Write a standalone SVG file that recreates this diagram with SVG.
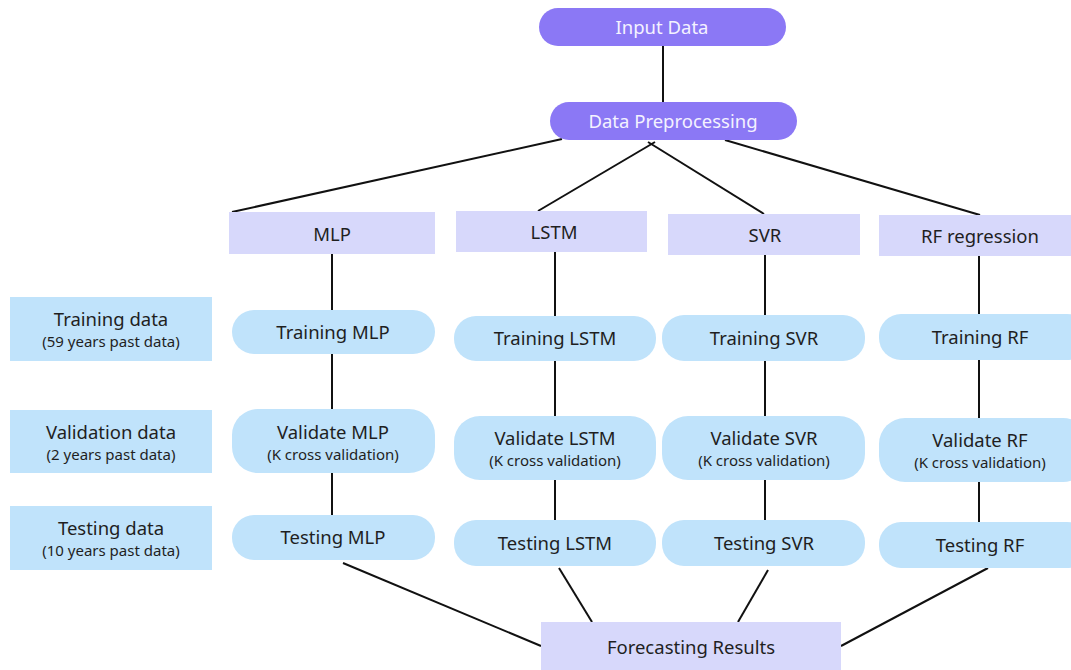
<svg xmlns="http://www.w3.org/2000/svg" width="1071" height="670" viewBox="0 0 1071 670">
<style>
.bg{fill:#ffffff}
.top{fill:#8b78f5}
.model{fill:#d7d8fb}
.pill{fill:#c0e3fb}
.side{fill:#c0e3fb}
.t{font-family:"Noto Sans","Liberation Sans",sans-serif;font-size:18.5px;fill:#1f1f1f;text-anchor:middle;dominant-baseline:central}
.s{font-family:"Noto Sans","Liberation Sans",sans-serif;font-size:15px;fill:#1f1f1f;text-anchor:middle;dominant-baseline:central}
.w{fill:#f4f2ff}
.c{stroke:#111;stroke-width:2;fill:none}
</style>
<rect class="bg" x="0" y="0" width="1071" height="670"/>
<g id="connectors">
<line class="c" x1="663" y1="46" x2="663" y2="102"/>
<line class="c" x1="562" y1="139" x2="232" y2="212"/>
<line class="c" x1="655" y1="142" x2="538" y2="211"/>
<line class="c" x1="648" y1="142" x2="764" y2="214"/>
<line class="c" x1="725" y1="140" x2="980" y2="215"/>
<line class="c" x1="332" y1="254" x2="332" y2="310"/>
<line class="c" x1="332" y1="354" x2="332" y2="409"/>
<line class="c" x1="332" y1="473" x2="332" y2="515"/>
<line class="c" x1="555" y1="252" x2="555" y2="316"/>
<line class="c" x1="555" y1="361" x2="555" y2="416"/>
<line class="c" x1="555" y1="480" x2="555" y2="520"/>
<line class="c" x1="765" y1="255" x2="765" y2="315"/>
<line class="c" x1="765" y1="361" x2="765" y2="416"/>
<line class="c" x1="765" y1="480" x2="765" y2="520"/>
<line class="c" x1="979" y1="256" x2="979" y2="314"/>
<line class="c" x1="979" y1="360" x2="979" y2="418"/>
<line class="c" x1="979" y1="482" x2="979" y2="522"/>
<line class="c" x1="343" y1="563" x2="541" y2="646"/>
<line class="c" x1="559" y1="568" x2="592" y2="622"/>
<line class="c" x1="768" y1="570" x2="738" y2="622"/>
<line class="c" x1="988" y1="568" x2="841" y2="646"/>
</g>
<g id="input-data"><rect class="top" x="539" y="8" width="247" height="38" rx="19"/><text class="t w" x="662" y="26">Input Data</text></g>
<g id="data-preprocessing"><rect class="top" x="550" y="102" width="247" height="38" rx="19"/><text class="t w" x="673" y="120">Data Preprocessing</text></g>
<g id="mlp"><rect class="model" x="229" y="212" width="206" height="42"/><text class="t" x="332" y="233">MLP</text></g>
<g id="lstm"><rect class="model" x="456" y="211" width="191" height="41"/><text class="t" x="554" y="231">LSTM</text></g>
<g id="svr"><rect class="model" x="668" y="214" width="192" height="41"/><text class="t" x="765" y="234">SVR</text></g>
<g id="rf"><rect class="model" x="879" y="215" width="192" height="41"/><text class="t" x="980" y="235">RF regression</text></g>
<g id="training-data"><rect class="side" x="10" y="297" width="202" height="64"/><text class="t" x="111" y="318">Training data</text><text class="s" x="111" y="341">(59 years past data)</text></g>
<g id="validation-data"><rect class="side" x="10" y="410" width="202" height="63"/><text class="t" x="111" y="431">Validation data</text><text class="s" x="111" y="454">(2 years past data)</text></g>
<g id="testing-data"><rect class="side" x="10" y="506" width="202" height="64"/><text class="t" x="111" y="527">Testing data</text><text class="s" x="111" y="550">(10 years past data)</text></g>
<g id="training-mlp"><rect class="pill" x="232" y="310" width="203" height="44" rx="22"/><text class="t" x="333" y="331">Training MLP</text></g>
<g id="validate-mlp"><rect class="pill" x="232" y="409" width="203" height="64" rx="26"/><text class="t" x="333" y="431">Validate MLP</text><text class="s" x="333" y="454">(K cross validation)</text></g>
<g id="testing-mlp"><rect class="pill" x="232" y="515" width="203" height="45" rx="22"/><text class="t" x="333" y="536">Testing MLP</text></g>
<g id="training-lstm"><rect class="pill" x="454" y="316" width="202" height="45" rx="22"/><text class="t" x="555" y="337">Training LSTM</text></g>
<g id="validate-lstm"><rect class="pill" x="454" y="416" width="202" height="64" rx="26"/><text class="t" x="555" y="437">Validate LSTM</text><text class="s" x="555" y="460">(K cross validation)</text></g>
<g id="testing-lstm"><rect class="pill" x="454" y="520" width="202" height="46" rx="22"/><text class="t" x="555" y="542">Testing LSTM</text></g>
<g id="training-svr"><rect class="pill" x="662" y="315" width="203" height="46" rx="22"/><text class="t" x="764" y="337">Training SVR</text></g>
<g id="validate-svr"><rect class="pill" x="662" y="416" width="203" height="64" rx="26"/><text class="t" x="764" y="437">Validate SVR</text><text class="s" x="764" y="460">(K cross validation)</text></g>
<g id="testing-svr"><rect class="pill" x="662" y="520" width="203" height="46" rx="22"/><text class="t" x="764" y="542">Testing SVR</text></g>
<g id="training-rf"><rect class="pill" x="879" y="314" width="210" height="46" rx="22"/><text class="t" x="980" y="336">Training RF</text></g>
<g id="validate-rf"><rect class="pill" x="879" y="418" width="210" height="64" rx="26"/><text class="t" x="980" y="439">Validate RF</text><text class="s" x="980" y="462">(K cross validation)</text></g>
<g id="testing-rf"><rect class="pill" x="879" y="522" width="210" height="46" rx="22"/><text class="t" x="980" y="544">Testing RF</text></g>
<g id="forecasting-results"><rect class="model" x="541" y="622" width="300" height="52"/><text class="t" x="691" y="646">Forecasting Results</text></g>
</svg>
